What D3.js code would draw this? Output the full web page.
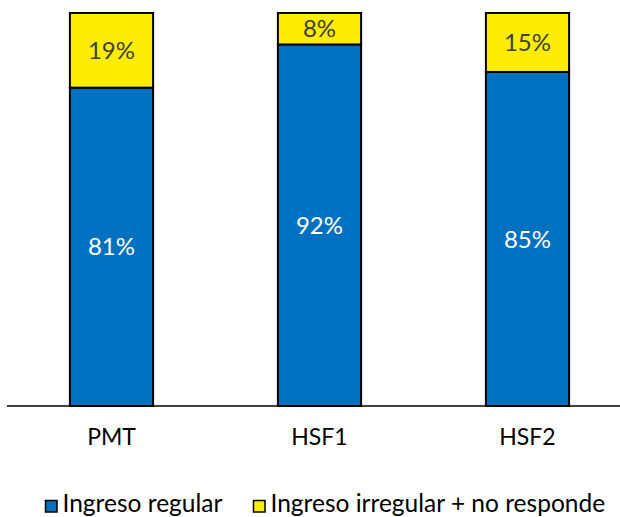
<!DOCTYPE html>
<html>
<head>
<meta charset="utf-8">
<script src="https://cdn.jsdelivr.net/npm/d3@7"></script>
<style>
  body { margin: 0; background: #fff; }
  text { font-family: Lato, "Open Sans", sans-serif; }
</style>
</head>
<body>
<svg width="620" height="517"></svg>
<script>
var categories = ['PMT', 'HSF1', 'HSF2'];
var regular = [81, 92, 85];
var irregular = [19, 8, 15];
var seriesNames = ['Ingreso regular', 'Ingreso irregular + no responde'];
var seriesColors = ['#0070C0', '#FFED00'];

var width = 620, height = 517;
var plotTop = 13, plotBase = 406;

var svg = d3.select('svg');

var x = d3.scaleBand()
          .domain(categories)
          .range([7.5, 631.5])
          .paddingInner(0.6)
          .paddingOuter(0.3);

var y = d3.scaleLinear()
          .domain([0, 100])
          .range([plotBase, plotTop]);

var rows = categories.map((c, i) => ({cat: c, regular: regular[i], irregular: irregular[i]}));
var stack = d3.stack().keys(['regular', 'irregular']);
var layers = stack(rows);

var g = svg.append('g');

layers.forEach(function (layer, li) {
  g.selectAll('.bar' + li)
    .data(layer)
    .enter()
    .append('rect')
      .attr('x', d => x(d.data.cat))
      .attr('y', d => y(d[1]))
      .attr('width', x.bandwidth())
      .attr('height', d => y(d[0]) - y(d[1]))
      .attr('fill', seriesColors[li])
      .attr('stroke', '#000')
      .attr('stroke-width', 2);

  g.selectAll('.lab' + li)
    .data(layer)
    .enter()
    .append('text')
      .attr('x', d => x(d.data.cat) + x.bandwidth() / 2)
      .attr('y', d => (y(d[0]) + y(d[1])) / 2)
      .attr('dy', '0.36em')
      .attr('text-anchor', 'middle')
      .attr('font-size', 24)
      .attr('fill', li === 0 ? '#fff' : '#404040')
      .text(d => (d[1] - d[0]) + '%');
});

// baseline
svg.append('line')
   .attr('x1', 7).attr('x2', 620)
   .attr('y1', plotBase).attr('y2', plotBase)
   .attr('stroke', '#000')
   .attr('stroke-width', 1.5);

// category labels
svg.selectAll('.cat')
   .data(categories)
   .enter()
   .append('text')
     .attr('x', d => x(d) + x.bandwidth() / 2)
     .attr('y', 445)
     .attr('text-anchor', 'middle')
     .attr('font-size', 23)
     .attr('fill', '#000')
     .text(d => d);

// legend
var legendX = [45.5, 253.5];
var lg = svg.selectAll('.leg')
   .data(seriesNames)
   .enter()
   .append('g')
     .attr('transform', (d, i) => `translate(${legendX[i]},500.5)`);
lg.append('rect')
  .attr('width', 11.5).attr('height', 11.5)
  .attr('fill', (d, i) => seriesColors[i])
  .attr('stroke', '#000')
  .attr('stroke-width', 1.5);
lg.append('text')
  .attr('x', 17)
  .attr('y', 11.5)
  .attr('font-size', 24.5)
  .attr('fill', '#000')
  .text(d => d);
</script>
</body>
</html>
